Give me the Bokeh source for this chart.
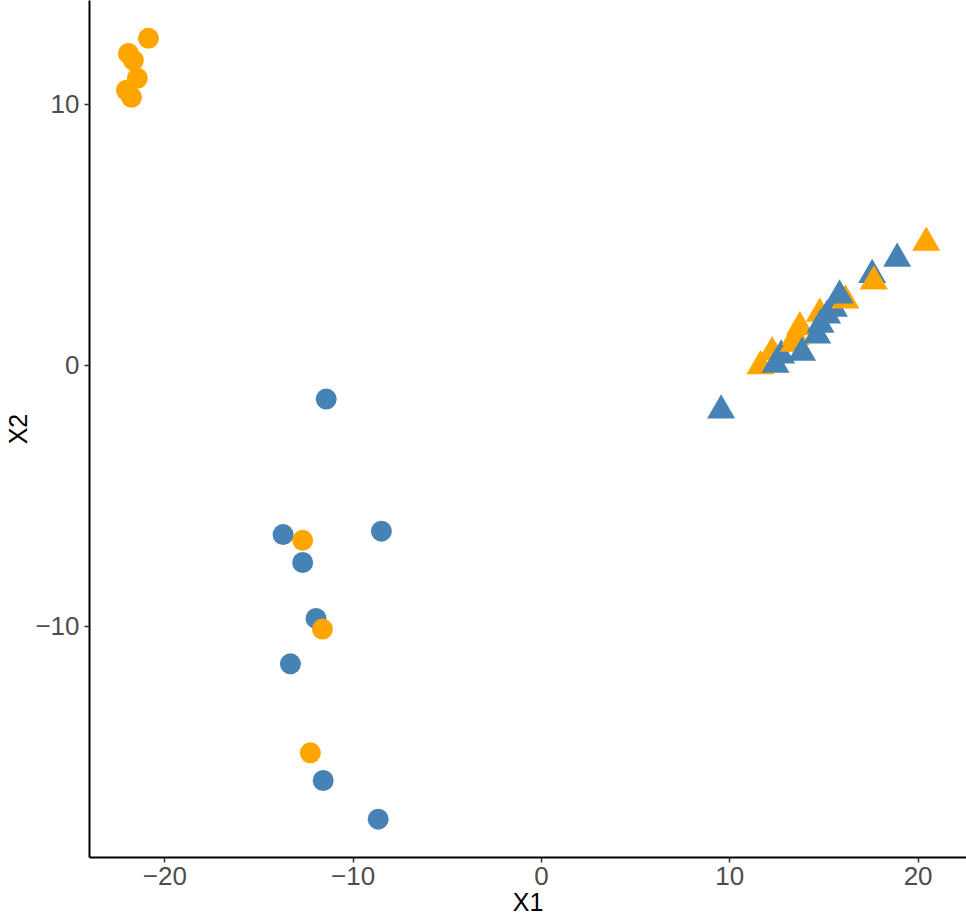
from bokeh.plotting import figure
from bokeh.models import ColumnDataSource, FixedTicker, Range1d
from bokeh.embed import file_html
from bokeh.resources import INLINE

# ---- data ----
x1 = [-20.87, -21.93, -21.67, -21.46, -22.04, -21.77,
      -11.43, -13.72, -8.50, -12.68, -12.68, -11.97, -11.63, -13.33, -12.27, -11.59, -8.67,
      9.54, 11.63, 12.25, 12.43, 12.73, 13.40, 13.49, 13.72, 13.84,
      14.78, 14.64, 14.82, 15.17, 15.53, 16.14, 15.83, 17.56, 17.65, 18.89, 20.43]
x2 = [12.53, 11.95, 11.69, 11.00, 10.54, 10.27,
      -1.29, -6.48, -6.35, -6.70, -7.55, -9.69, -10.10, -11.43, -14.84, -15.90, -17.38,
      -1.72, -0.03, 0.51, 0.03, 0.38, 0.83, 1.09, 1.47, 0.49,
      1.98, 1.15, 1.56, 1.92, 2.17, 2.49, 2.68, 3.47, 3.22, 4.09, 4.70]
group = ["A", "A", "A", "A", "A", "A",
         "B", "B", "B", "A", "B", "B", "A", "B", "A", "B", "B",
         "B", "A", "A", "B", "B", "A", "A", "A", "B",
         "A", "B", "B", "B", "B", "A", "B", "B", "A", "B", "A"]
shape = ["circle"] * 17 + ["triangle"] * 20

x_ticks = [-20, -10, 0, 10, 20]
x_tick_labels = ["\u221220", "\u221210", "0", "10", "20"]
y_ticks = [-10, 0, 10]
y_tick_labels = ["\u221210", "0", "10"]

group_colors = {"A": "#FFA500", "B": "#4682B4"}
shape_sizes = {"circle": 21, "triangle": 28}

src = ColumnDataSource(dict(
    x=x1, y=x2,
    color=[group_colors[g] for g in group],
    marker=shape,
    size=[shape_sizes[s] for s in shape],
))

p = figure(width=966, height=920, output_backend="svg", toolbar_location=None,
           x_range=Range1d(-24.0, 22.57), y_range=Range1d(-18.85, 13.98),
           min_border_left=89, min_border_right=0, min_border_top=0, min_border_bottom=63)

p.scatter("x", "y", source=src, marker="marker", size="size",
          fill_color="color", line_color=None)

p.xgrid.visible = False
p.ygrid.visible = False
p.outline_line_color = None
p.background_fill_color = "white"
p.border_fill_color = "white"

p.xaxis.ticker = FixedTicker(ticks=x_ticks)
p.yaxis.ticker = FixedTicker(ticks=y_ticks)
p.xaxis.major_label_overrides = dict(zip(x_ticks, x_tick_labels))
p.yaxis.major_label_overrides = dict(zip(y_ticks, y_tick_labels))
p.xaxis.axis_label = "X1"
p.yaxis.axis_label = "X2"

for ax in (p.xaxis[0], p.yaxis[0]):
    ax.axis_line_color = "black"
    ax.axis_line_width = 2
    ax.major_tick_line_color = "#333333"
    ax.major_tick_line_width = 1.5
    ax.major_tick_out = 5
    ax.major_tick_in = 0
    ax.minor_tick_line_color = None
    ax.major_label_text_font = "Liberation Sans"
    ax.major_label_text_font_size = "26px"
    ax.major_label_text_color = "#4D4D4D"
    ax.axis_label_text_font = "Liberation Sans"
    ax.axis_label_text_font_size = "25px"
    ax.axis_label_text_font_style = "normal"
    ax.axis_label_text_color = "black"

p.xaxis.major_label_standoff = 4
p.xaxis.axis_label_standoff = 0
p.yaxis.major_label_standoff = 5
p.yaxis.axis_label_standoff = 0

open("out.html", "w").write(file_html(p, INLINE))
